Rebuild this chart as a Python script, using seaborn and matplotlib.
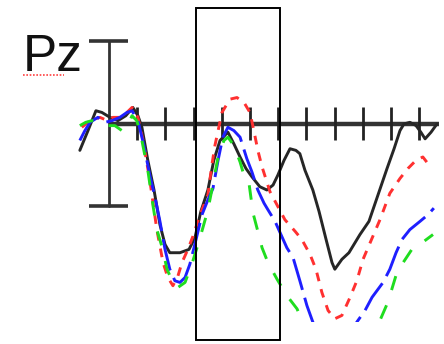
import pandas as pd
import seaborn as sns
import matplotlib.pyplot as plt
from matplotlib.patches import Rectangle

# ----------------------------- DATA -------------------------------------------
# ERP at Pz, time in ms, amplitude in uV
t_black = [-103, -74, -46, -25, 4, 32, 60, 85, 103, 117, 138, 160, 181, 199, 216,
           252, 284, 305, 326, 351, 372, 394, 422, 443, 465, 486, 507, 535, 560,
           582, 599, 621, 642, 663, 677, 695, 723, 745, 770, 791, 801, 826, 851,
           890, 922, 954, 986, 1011, 1032, 1046, 1067, 1089, 1106, 1121, 1142, 1163]
v_black = [-1.6, -0.4, 0.8, 0.7, 0.4, 0.2, 0.5, 1.0, 0.5, -0.2, -2.2, -4.0, -6.1,
           -7.3, -7.8, -7.8, -7.6, -6.9, -5.3, -4.0, -2.2, -1.0, -0.5, -1.2, -2.0,
           -2.7, -3.2, -3.8, -4.0, -3.7, -3.1, -2.2, -1.5, -1.6, -1.8, -2.8, -4.0,
           -5.3, -7.0, -8.4, -8.8, -8.2, -7.8, -6.7, -5.9, -4.3, -2.7, -1.5, -0.4,
           0.0, 0.1, -0.1, -0.5, -0.9, -0.5, 0.0]

t_red = [-96, -67, -32, -4, 14, 39, 64, 82, 103, 121, 145, 170, 192, 209, 227, 245,
         259, 280, 298, 323, 351, 365, 376, 401, 429, 454, 479, 500, 514, 528, 543,
         571, 599, 624, 660, 684, 713, 734, 755, 777, 801, 826, 855, 879, 901, 926,
         961, 996, 1032, 1060, 1089, 1113, 1131]
v_red = [-0.2, 0.2, 0.4, 0.2, 0.4, 0.4, 0.7, 1.0, 0.4, -1.0, -3.4, -6.4, -8.4, -9.3,
         -9.8, -9.2, -8.4, -7.6, -6.8, -5.5, -4.3, -2.5, -1.3, 0.7, 1.5, 1.6, 1.3,
         0.7, -0.4, -1.6, -2.6, -4.1, -5.0, -5.8, -6.5, -7.0, -7.9, -8.8, -10.2,
         -11.3, -11.8, -11.6, -10.5, -9.5, -8.2, -7.2, -5.8, -4.2, -3.3, -2.7, -2.2,
         -2.0, -2.4]

t_blue = [-103, -85, -67, -39, -14, 11, 39, 64, 82, 103, 124, 145, 163, 181, 199,
          216, 234, 252, 270, 287, 309, 330, 351, 369, 387, 404, 422, 443, 465, 489,
          507, 528, 550, 564, 589, 610, 631, 653, 677, 702, 723, 748, 784, 837, 879,
          908, 933, 972, 996, 1018, 1039, 1067, 1103, 1131, 1152]
v_blue = [-1.0, -0.4, 0.1, 0.4, 0.1, 0.2, 0.4, 0.7, 0.8, 0.2, -1.3, -3.1, -4.4, -5.9,
          -7.6, -8.8, -9.5, -9.6, -9.3, -8.5, -7.0, -5.5, -4.6, -3.9, -2.2, -0.8,
          -0.2, -0.4, -0.8, -2.1, -2.9, -4.0, -4.8, -5.2, -5.9, -6.7, -7.5, -8.1,
          -9.5, -11.0, -12.0, -12.8, -13.4, -13.4, -12.0, -11.3, -10.5, -9.6, -8.8,
          -7.8, -7.0, -6.4, -5.9, -5.5, -5.1]

t_green = [-103, -82, -60, -32, -4, 21, 46, 64, 82, 99, 117, 138, 156, 170, 191, 206,
           227, 245, 270, 294, 316, 333, 351, 365, 387, 408, 422, 443, 465, 482, 496,
           511, 528, 543, 564, 596, 631, 667, 684, 713, 766, 837, 908, 961, 989, 1021,
           1043, 1074, 1110, 1149]
v_green = [-0.1, 0.1, 0.2, 0.1, -0.1, -0.1, -0.4, -0.2, 0.5, 0.2, -1.0, -2.8, -4.9,
           -6.4, -7.6, -8.8, -9.6, -9.9, -9.6, -8.5, -7.3, -6.3, -5.2, -4.0, -2.0,
           -1.0, -0.8, -1.3, -2.3, -3.3, -3.5, -5.4, -6.5, -7.5, -8.4, -9.4, -10.4,
           -11.2, -11.9, -12.8, -13.7, -14.0, -13.4, -11.9, -10.8, -9.0, -8.4, -7.6,
           -7.2, -6.7]

conditions = ['black', 'red', 'blue', 'green']
colors = {'black': '#262626', 'red': '#ff3030', 'blue': '#1f1fff', 'green': '#1fdd1f'}
dashes = {'black': '', 'red': (3.0, 2.8), 'blue': (11, 2.8), 'green': (5.0, 5.5)}

tick_times = [100, 200, 300, 400, 500, 600, 700, 800, 900, 1000, 1100]
window = (300, 600)      # analysis window (ms)
scale_uv = 5             # scale bar half-length (uV)

# ------------------------------------------------------------------------------
frames = []
for name, t, v in zip(conditions,
                      [t_black, t_red, t_blue, t_green],
                      [v_black, v_red, v_blue, v_green]):
    frames.append(pd.DataFrame({'time': t, 'amp': v, 'cond': name}))
df = pd.concat(frames, ignore_index=True)

sns.set_style('white')
plt.rcParams['font.family'] = ['Liberation Sans', 'DejaVu Sans']

fig = plt.figure(figsize=(4.44, 3.44), dpi=100)
ax = fig.add_axes([0, 0, 1, 1])

# time axis with ticks
ax.plot([0, 1170], [0, 0], color='#333333', lw=3.2, solid_capstyle='butt', zorder=1)
ax.vlines(tick_times, -1.0, 1.05, color='#222222', lw=2.0, zorder=1)

# amplitude scale bar at time zero
ax.plot([0, 0], [-scale_uv, scale_uv], color='#333333', lw=2.0, zorder=1)
ax.hlines([-scale_uv, scale_uv], -72, 68, color='#333333', lw=2.6, zorder=1)

sns.lineplot(data=df, x='time', y='amp', hue='cond', style='cond',
             hue_order=conditions, style_order=conditions,
             palette=colors, dashes=dashes, estimator=None, sort=False,
             lw=2.1, legend=False, ax=ax, zorder=3)

# analysis window box
ax.add_patch(Rectangle((window[0] + 8, -13.1), window[1] - window[0], 20.1,
                       fill=False, ec='black', lw=1.4, zorder=4))

# blank strip the traces are cut off at
ax.add_patch(Rectangle((617, -12.0), 700, -3, fc='white', ec='none', zorder=5))

ax.text(-305, 3.2, 'Pz', fontsize=37, color='#111111', ha='left', va='baseline')
ax.plot([-306, -160], [2.95, 2.95], color='#ff4040', lw=1.2, ls=(0, (1, 1)))

ax.set_xlim(-386, 1188)
ax.set_ylim(-13.33, 7.51)
ax.axis('off')

plt.savefig('out.png', dpi=100)
